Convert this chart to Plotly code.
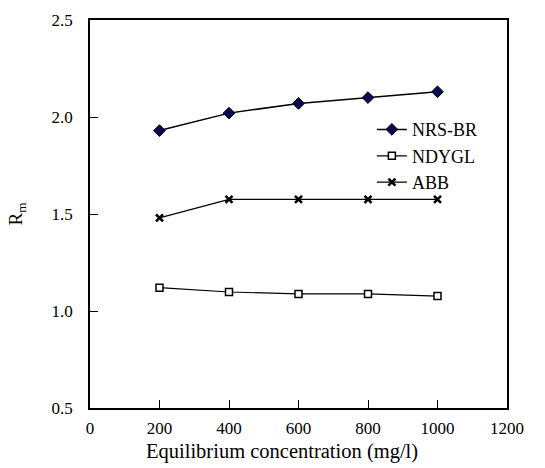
import plotly.graph_objects as go

conc = [200, 400, 600, 800, 1000]
nrs_br = [1.93, 2.02, 2.07, 2.10, 2.13]
ndygl = [1.12, 1.098, 1.088, 1.088, 1.077]
abb = [1.48, 1.575, 1.575, 1.575, 1.575]
x_ticks = [0, 200, 400, 600, 800, 1000, 1200]
y_ticks = [0.5, 1.0, 1.5, 2.0, 2.5]
x_title = "Equilibrium concentration (mg/l)"
y_title = "R<sub>m</sub>"

fig = go.Figure()
fig.add_trace(go.Scatter(
    x=conc, y=nrs_br, name="NRS-BR", mode="lines+markers",
    line=dict(color="black", width=1.5),
    marker=dict(symbol="diamond", size=9, color="#0a0a50",
                line=dict(color="black", width=1)),
))
fig.add_trace(go.Scatter(
    x=conc, y=ndygl, name="NDYGL", mode="lines+markers",
    line=dict(color="black", width=1.2),
    marker=dict(symbol="square", size=7, color="white",
                line=dict(color="black", width=1.5)),
))
fig.add_trace(go.Scatter(
    x=conc, y=abb, name="ABB", mode="lines+markers",
    line=dict(color="black", width=1.2),
    marker=dict(symbol="x-thin-open", size=7,
                line=dict(color="black", width=2.6)),
))

serif = "Liberation Serif"
fig.update_layout(
    width=545, height=468,
    margin=dict(l=90, r=38, t=20, b=60, autoexpand=False),
    paper_bgcolor="white", plot_bgcolor="white",
    font=dict(family=serif, size=17, color="black"),
    showlegend=True,
    legend=dict(x=0.676, y=0.765, xanchor="left", yanchor="top",
                bgcolor="rgba(0,0,0,0)", font=dict(family=serif, size=18),
                tracegroupgap=0),
    xaxis=dict(range=[0, 1200], tickvals=x_ticks, ticks="inside", ticklen=8,
               tickcolor="black", tickwidth=1.2, showline=True, linecolor="black", linewidth=1.5,
               mirror=True, showgrid=False, zeroline=False, automargin=False,
               ticklabelstandoff=4, tickfont=dict(family=serif, size=17)),
    yaxis=dict(range=[0.5, 2.5], tickvals=y_ticks, ticktext=["0.5", "1.0", "1.5", "2.0", "2.5"],
               ticks="inside", ticklen=8, tickwidth=1.2, automargin=False,
               tickcolor="black", showline=True, linecolor="black", linewidth=1.5,
               mirror=True, showgrid=False, zeroline=False,
               ticklabelstandoff=12, tickfont=dict(family=serif, size=17),
               title=dict(text=y_title, font=dict(family=serif, size=19), standoff=24)),
    annotations=[dict(text=x_title, xref="paper", yref="paper", x=0.46, y=-0.113,
                      xanchor="center", yanchor="middle", showarrow=False,
                      font=dict(family=serif, size=20.5))],
)

fig.write_html("out.html", config={"displayModeBar": False},
               post_script="document.body.style.margin='0';")
